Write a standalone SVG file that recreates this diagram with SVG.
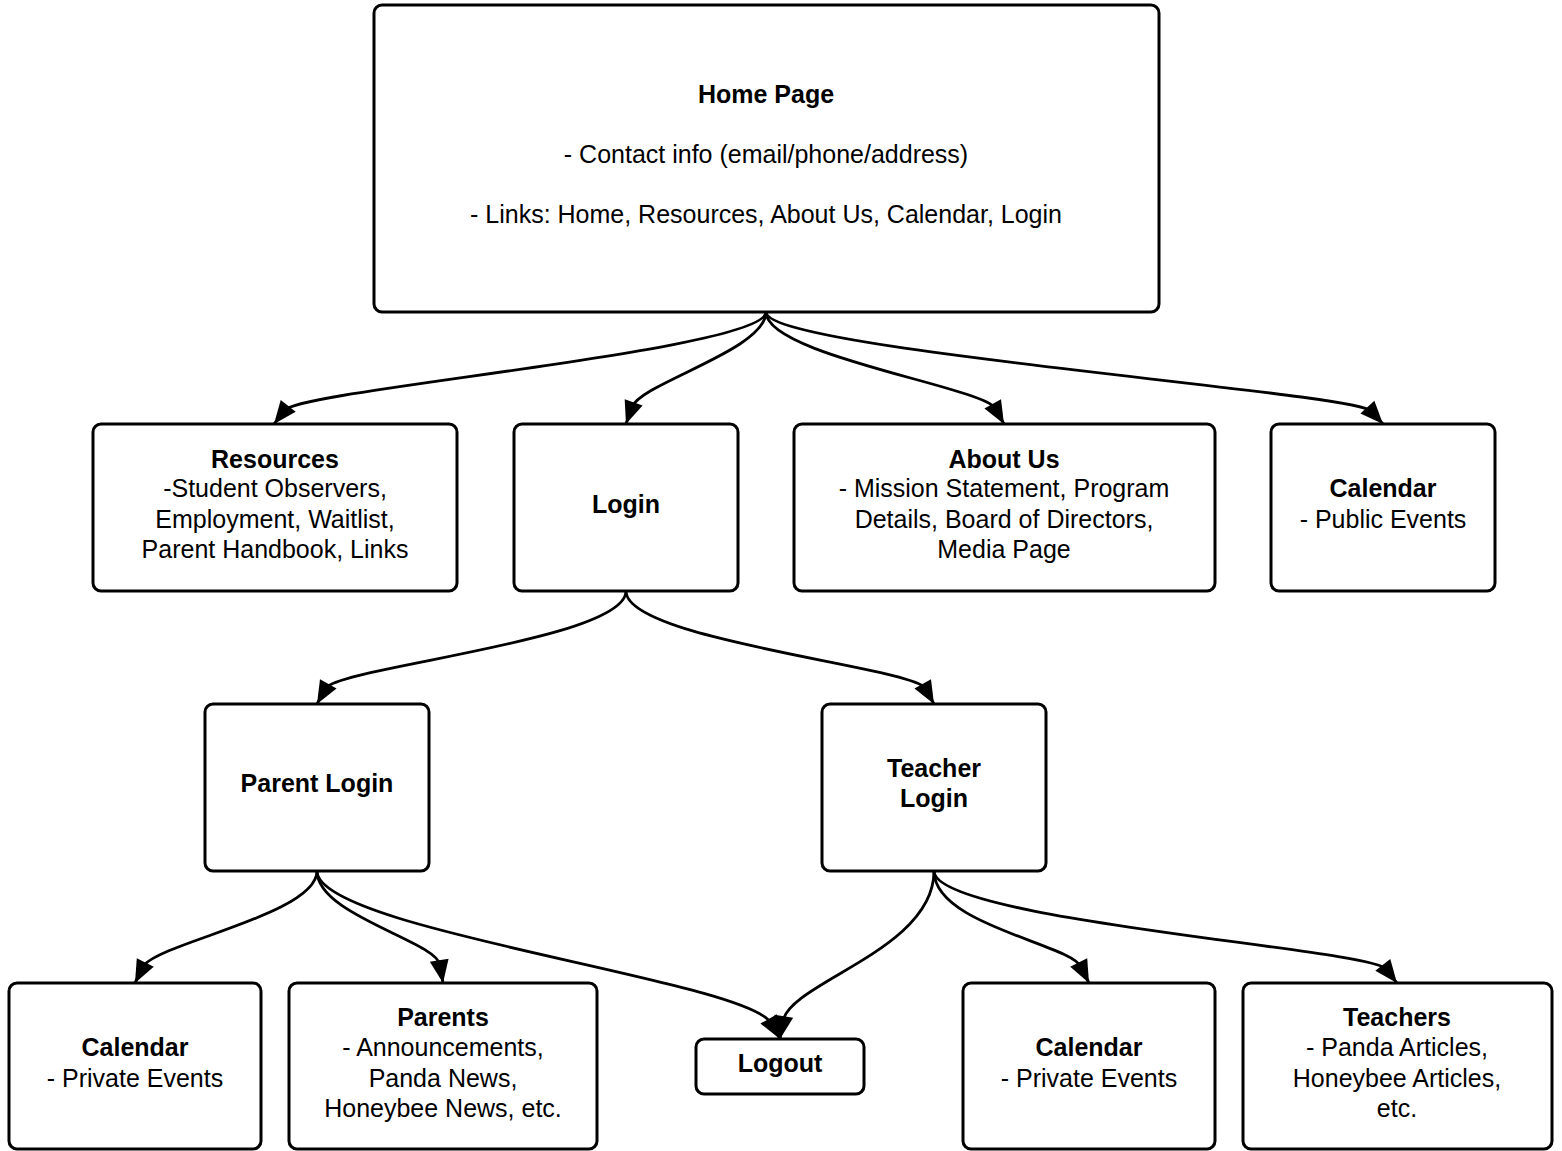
<svg xmlns="http://www.w3.org/2000/svg" width="1562" height="1151" viewBox="0 0 1562 1151">
<style>
.box{fill:#fff;stroke:#000;stroke-width:3}
.t{font-family:"Liberation Sans",Arial,sans-serif;font-size:25px;fill:#000;text-anchor:middle}
.b{font-weight:bold}
.c{fill:none;stroke:#000;stroke-width:2.8;marker-end:url(#ah)}
</style>
<defs>
<marker id="ah" markerUnits="userSpaceOnUse" markerWidth="24" markerHeight="20" viewBox="0 0 24 20" refX="23" refY="10" orient="auto" overflow="visible">
<path d="M0,0.5 L23,10 L0,19.5 z" fill="#000"/>
</marker>
</defs>
<rect width="1562" height="1151" fill="#fff"/>
<g id="home">
<rect class="box" x="374" y="5" width="785" height="307" rx="8"/>
<text class="t b" x="766" y="103">Home Page</text>
<text class="t" x="766" y="163">- Contact info (email/phone/address)</text>
<text class="t" x="766" y="223">- Links: Home, Resources, About Us, Calendar, Login</text>
</g>
<g id="resources">
<rect class="box" x="93" y="424" width="364" height="167" rx="8"/>
<text class="t b" x="275" y="468">Resources</text>
<text class="t" x="275" y="497">-Student Observers,</text>
<text class="t" x="275" y="528">Employment, Waitlist,</text>
<text class="t" x="275" y="558">Parent Handbook, Links</text>
</g>
<g id="login">
<rect class="box" x="514" y="424" width="224" height="167" rx="8"/>
<text class="t b" x="626" y="513">Login</text>
</g>
<g id="about">
<rect class="box" x="794" y="424" width="421" height="167" rx="8"/>
<text class="t b" x="1004" y="468">About Us</text>
<text class="t" x="1004" y="497">- Mission Statement, Program</text>
<text class="t" x="1004" y="528">Details, Board of Directors,</text>
<text class="t" x="1004" y="558">Media Page</text>
</g>
<g id="calendar-public">
<rect class="box" x="1271" y="424" width="224" height="167" rx="8"/>
<text class="t b" x="1383" y="497">Calendar</text>
<text class="t" x="1383" y="528">- Public Events</text>
</g>
<g id="parent-login">
<rect class="box" x="205" y="704" width="224" height="167" rx="8"/>
<text class="t b" x="317" y="792">Parent Login</text>
</g>
<g id="teacher-login">
<rect class="box" x="822" y="704" width="224" height="167" rx="8"/>
<text class="t b" x="934" y="777">Teacher</text>
<text class="t b" x="934" y="807">Login</text>
</g>
<g id="calendar-parent">
<rect class="box" x="9" y="983" width="252" height="166" rx="8"/>
<text class="t b" x="135" y="1056">Calendar</text>
<text class="t" x="135" y="1087">- Private Events</text>
</g>
<g id="parents">
<rect class="box" x="289" y="983" width="308" height="166" rx="8"/>
<text class="t b" x="443" y="1026">Parents</text>
<text class="t" x="443" y="1056">- Announcements,</text>
<text class="t" x="443" y="1087">Panda News,</text>
<text class="t" x="443" y="1117">Honeybee News, etc.</text>
</g>
<g id="logout">
<rect class="box" x="696" y="1039" width="168" height="55" rx="8"/>
<text class="t b" x="780" y="1072">Logout</text>
</g>
<g id="calendar-teacher">
<rect class="box" x="963" y="983" width="252" height="166" rx="8"/>
<text class="t b" x="1089" y="1056">Calendar</text>
<text class="t" x="1089" y="1087">- Private Events</text>
</g>
<g id="teachers">
<rect class="box" x="1243" y="983" width="309" height="166" rx="8"/>
<text class="t b" x="1397" y="1026">Teachers</text>
<text class="t" x="1397" y="1056">- Panda Articles,</text>
<text class="t" x="1397" y="1087">Honeybee Articles,</text>
<text class="t" x="1397" y="1117">etc.</text>
</g>
<g id="connectors">
<path class="c" d="M766,312 C766,350 300,390 285,410 L274,424"/>
<path class="c" d="M766,312 C766,350 641,383 632,407 L626,424"/>
<path class="c" d="M766,312 C766,355 982,387 995,408 L1004,424"/>
<path class="c" d="M766,312 C766,350 1354,392 1371,411 L1383,424"/>
<path class="c" d="M626,591 C626,640 339,667 326,688 L317,704"/>
<path class="c" d="M626,591 C626,640 912,667 925,688 L934,704"/>
<path class="c" d="M317,871 C317,915 153,944 143,967 L135,983"/>
<path class="c" d="M317,871 C317,915 436,941 440,965 L443,983"/>
<path class="c" d="M317,871 C317,930 746,980 771,1023 L780,1039"/>
<path class="c" d="M934,871 C934,950 790,982 783,1021 L780,1039"/>
<path class="c" d="M934,871 C934,925 1071,944 1081,967 L1089,983"/>
<path class="c" d="M934,871 C934,920 1371,949 1386,969 L1397,983"/>
</g>
</svg>
